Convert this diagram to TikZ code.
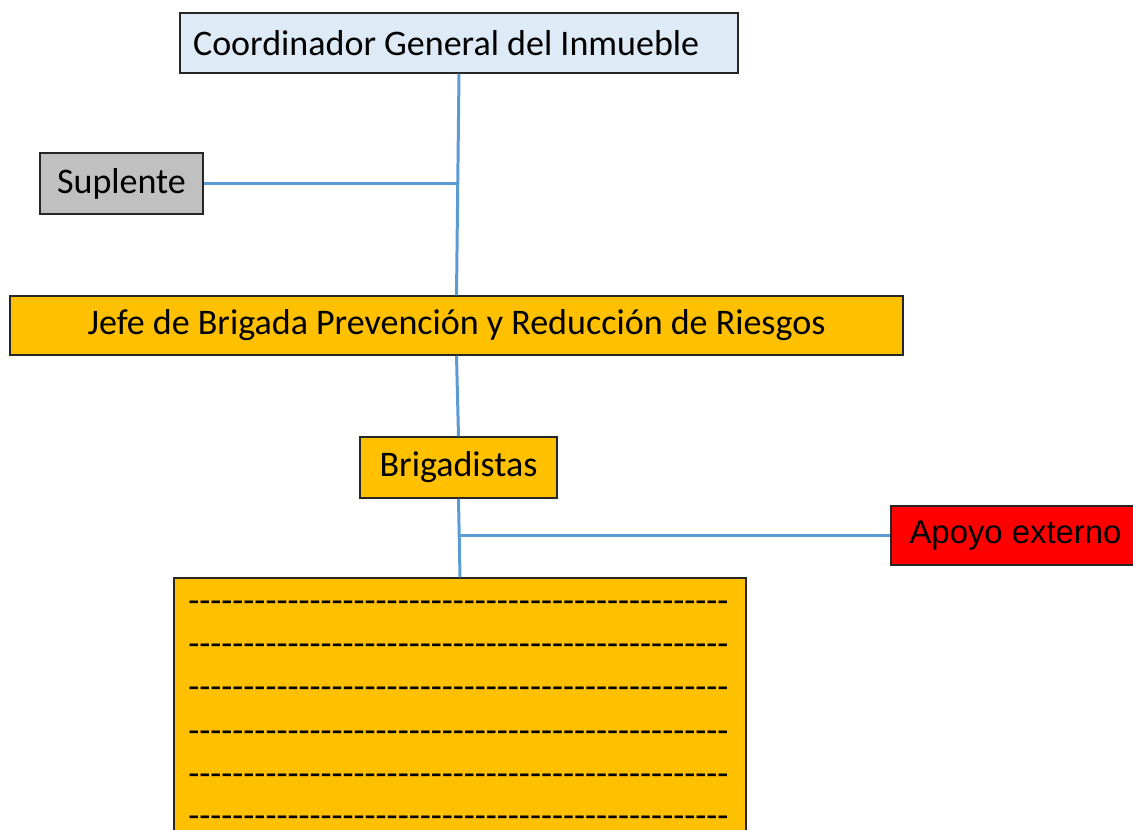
\documentclass[tikz,border=0pt]{standalone}
\usepackage{fontspec}
\setmainfont{Carlito}
\newfontfamily\arialfont{Liberation Sans}
\newcommand{\dashline}{\foreach \k in {1,...,49}{-\kern0pt}}
\definecolor{coordblue}{HTML}{DEEBF7}
\definecolor{suplgray}{HTML}{C0C0C0}
\definecolor{brigorange}{HTML}{FFC000}
\definecolor{apoyored}{HTML}{FF0000}
\definecolor{linkblue}{HTML}{5B9BD5}
\begin{document}
\begin{tikzpicture}[x=0.02cm, y=-0.02cm,
    box/.style={draw=black!85, line width=0.85pt, inner sep=0pt,
      font=\fontsize{20.5}{24}\selectfont},
    link/.style={draw=linkblue, line width=1.7pt},
    dashrow/.style={inner sep=0pt, anchor=west, font=\fontsize{20.5}{24}\selectfont}]
\useasboundingbox (0,0) rectangle (1133,829);
\clip (0,0) rectangle (1133,829);

% Boxes
\node[box, fill=coordblue, minimum width=11.16cm, minimum height=1.2cm] (coord) at (459,43) {\makebox[10.64cm][l]{Coordinador General del Inmueble}};
\node[box, fill=suplgray, minimum width=3.26cm, minimum height=1.22cm] (supl) at (121.5,183.5) {Suplente};
\node[box, fill=brigorange, minimum width=17.86cm, minimum height=1.18cm] (jefe) at (456.5,325.5) {Jefe de Brigada Prevención y Reducción de Riesgos};
\node[box, fill=brigorange, minimum width=3.94cm, minimum height=1.22cm] (brig) at (458.5,467.5) {Brigadistas};
\node[box, fill=apoyored, minimum width=4.98cm, minimum height=1.18cm, font=\arialfont\fontsize{18.7}{22}\selectfont] (apoyo) at (1015.5,535.5) {Apoyo externo};
\node[box, fill=brigorange, minimum width=11.44cm, minimum height=5.64cm] (lista) at (460,719) {};

% Lines for names
\foreach \y [count=\i] in {607,650,693,737,780,822}
  \node[dashrow] (row\i) at (188,\y) {\dashline};

% Connectors
\draw[link] (coord.south) -- (jefe.north);
\draw[link] (supl.east) -- (supl.east -| coord.south);
\draw[link] (jefe.south) -- (brig.north);
\draw[link] (brig.south) -- (lista.north);
\draw[link] (apoyo.west) -- (apoyo.west -| lista.north);
\end{tikzpicture}
\end{document}
